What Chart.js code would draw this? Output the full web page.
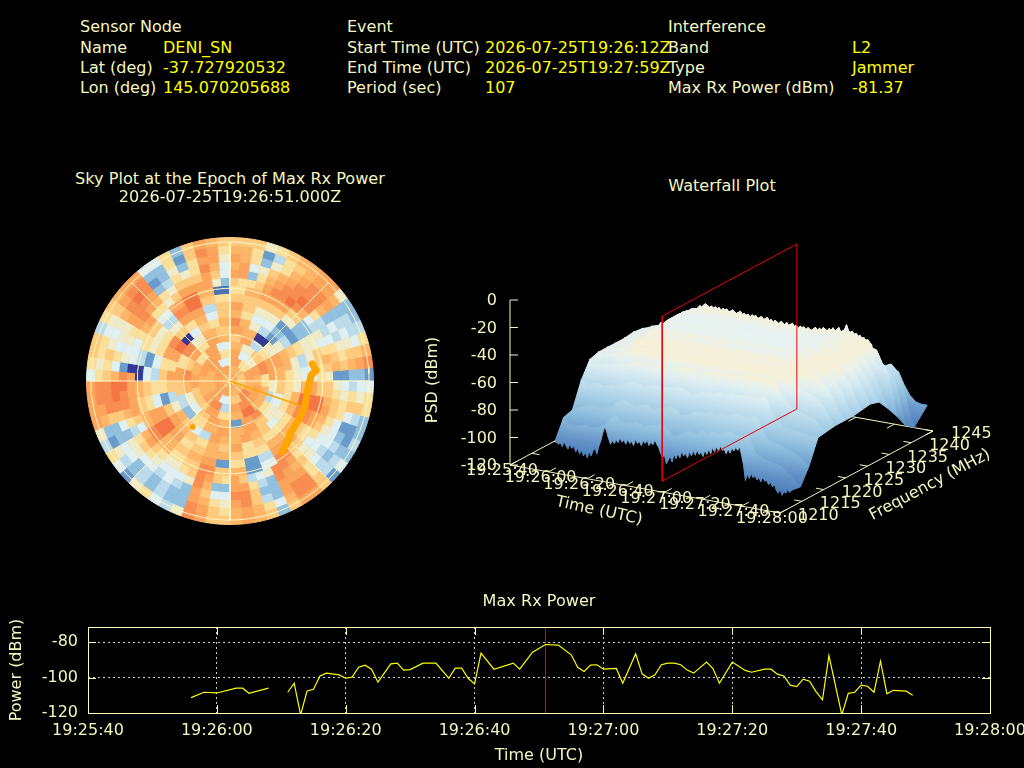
<!DOCTYPE html>
<html>
<head>
<meta charset="utf-8">
<title>Interference report</title>
<script src="https://cdn.jsdelivr.net/npm/chart.js@4"></script>
<style>
html, body { margin: 0; padding: 0; background: #000; width: 1024px; height: 768px; overflow: hidden; }
canvas { position: absolute; display: block; }
.txt { position: absolute; font: 16px "DejaVu Sans", sans-serif; white-space: pre; line-height: 18px; transform: translateY(-50%); }
.title { font-size: 16.1px; }
</style>
</head>
<body>
<canvas id="skyCells" style="left:86px;top:237px" width="288" height="288"></canvas>
<canvas id="skyOverlay" style="left:85px;top:236px" width="290" height="290"></canvas>
<canvas id="waterfall" style="left:400px;top:220px" width="624" height="320"></canvas>
<canvas id="powerChart" style="left:0;top:580px" width="1024" height="188"></canvas>
<script>
// header block
const sensorLabels = ['Sensor Node', 'Name', 'Lat (deg)', 'Lon (deg)'];
const sensorValues = ['', 'DENI_SN', '-37.727920532', '145.070205688'];
const eventLabels = ['Event', 'Start Time (UTC)', 'End Time (UTC)', 'Period (sec)'];
const eventValues = ['', '2026-07-25T19:26:12Z', '2026-07-25T19:27:59Z', '107'];
const interfLabels = ['Interference', 'Band', 'Type', 'Max Rx Power (dBm)'];
const interfValues = ['', 'L2', 'Jammer', '-81.37'];

// max rx power, seconds after 19:25:40 (null = no sample)
const powerSeconds = [16,18,20,23,24,25,28,29,31,32,33,34,35,36,37,39,40,41,42,43,44,45,47,48,49,50,52,54,56,57,58,59,60,61,63,66,67,69,71,73,75,76,77,78,79,80,82,83,85,86,87,88,89,90,91,92,93,94,96,97,98,100,102,103,105,106,107,108,109,110,111,112,113,114,115,117,118,119,120,121,122,123,124,125,127,128];
const powerValues = [-111.3,-108.3,-108.7,-106,-106,-108.9,-106,null,-108.3,-103.2,-121,-107.6,-106.6,-99.1,-97.5,-98.5,-100.4,-99.8,-94.2,-93,-95.3,-102.6,-92.3,-91.9,-95.8,-95.5,-91.9,-91.9,-100.4,-94.7,-94.7,-100.4,-103.6,-86.2,-95.3,-91.9,-95.3,-85.7,-81.37,-81.7,-87.2,-94.2,-96.6,-93,-92.8,-95.3,-94.9,-103.2,-86.6,-97.9,-100.4,-98.5,-92.8,-91.9,-91.9,-92.8,-95.8,-97.5,-91.3,-94.9,-103.2,-91.3,-96,-97,-95.3,-95.3,-98.1,-99.1,-104.3,-105.1,-100.9,-102.1,-107.9,-112.6,-87.7,-121,-108.9,-108.3,-104.3,-104.9,-108.3,-90.8,-109.2,-107.2,-107.7,-110];
const powerTimeLabels = ['19:25:40','19:26:00','19:26:20','19:26:40','19:27:00','19:27:20','19:27:40','19:28:00'];
const powerTicks = [-80, -100, -120];
const maxEpochSecond = 71;

// sky plot: one string per 5 deg sector from north clockwise, one level per ring from zenith out
const skySectors = [
'99ab95aba9878a9a98','9ab9a8ab9a877aa998','ab9a99aa8978735778','aba989a97889876326',
'9a876a98679ba98647','99765876568aba9778','a98567654579bba989','98675404568acbba99',
'a9546313258abcbbaa','9a75764232689bbbaa','852687652223579a96','973899864233443333',
'a879aa986545645443','968abaa98766554544','829abba98778776657','72aabba96468987889',
'83abaa9852478989ab','959a98776557622332','a8a977864567865455','a998268769a8876767',
'9a8937928bcb987887','9a9a86879ccca87543','abaa9458accb975223','aaba95379bba865324',
'9aaba6468aa8755433','89aab7667987554345','99ba94378a97665442','aaba986579a8787788',
'aba9bb879abba9abba','9a9abc9879abbaabba','a9abcba987aabbaa98','9a9abaa98745633353',
'a9a9aa989634543478','9a89a9aa7722478899','a99a929a55568abbaa','9ba89249a879aaba99',
'9a8a92578988735678','893569a98928835788','92347aba9889a989aa','a2579aaa99abbbaabb',
'9889aa9589aa863336','a99aba847898754334','9aaba9766787655445','aabb98758787654337',
'9aaba867a478765446','a9aa97689a99875332','9a9a8538abcba86545','aa9a7369accb976567',
'9a9862789bb9543324','a98976468aa9875336','9aa98753699aa9889a','9a9a98642578abbbaa',
'a9aab9875379abcbba','ba9aba987789accbba','9a89aaab9787ab9875','a89abbaa8450025767',
'97abba987543567878','a69aa9877524555678','97aa98776666566554','a89a998aa767776667',
'9aa8aabba8889aa988','a9a98abcb768abbba9','9a9a779bb5247abcba','a9a86570864579abba',
'9a9977647655673235','a9a998757aba864335','9a9aa9869bcca87677','a9a89a989acca86323',
'9a9aa9a98abba87788','a959a8975489aababa','9a8759889784689aa9','89a986a98871355678'
];
// inner rings hold wider cells: sectors per cell, zenith out
const skyCellSpan = [36,12,6,4,4,3,3,2,2,2,2,2,1,1,1,1,1,1];
const skyPalette = ['#343a94','#4a74b4','#6a9ccb','#92c0df','#bcdcec','#e0f0f0','#f0ebc8','#fae09a','#fecb7e','#fdb668','#fca55d','#f98e52','#f57645'];
const trackAz = [78.2,82.9,85.9,95.2,102.5,109.6,120.2,131.2,137.6,143.6];
const trackEl = [35.6,33.8,37.3,39.3,39.4,38.7,38.9,38.3,35.4,33.3];
const maxPowerAz = 109.3, maxPowerEl = 41;
const spotAz = 219, spotEl = 51.6;
const gridElevations = [0, 30, 60];
const gridAzimuths = [0, 45, 90, 135];

// waterfall: seconds after 19:25:40, MHz, PSD dBm per frequency row
const waterfallTimes = [14,17,20,23,26,29,32,35,38,41,44,47,50,53,56,59,62,65,68,71,74,77,80,83,86,89,92,95,98,101,104,107,110,113,116,119,122,125,128,131,134,137];
const waterfallFreqs = [1214,1216,1218,1220,1222,1224,1226,1228,1230,1232,1234,1236,1238,1240,1242,1245];
// front edge and ridge rows are read at one second steps
const denseTimes = Array.from({ length: 124 }, function(_, i) { return 14 + i; });
const frontEdgePsd = [
-106,-104,-108,-106,-109,-105,-108,-110,-106,-109,
-107,-111,-108,-112,-109,-113,-110,-114,-109,-112,
-108,-106,-110,-104,-100,-94,-89,-92,-97,-101,
-98,-100,-97,-99,-95,-98,-96,-99,-95,-98,
-96,-99,-94,-97,-95,-98,-94,-96,-93,-97,
-94,-96,-92,-95,-97,-101,-104,-102,-108,-105,
-102,-106,-100,-103,-99,-102,-97,-100,-98,-101,
-96,-99,-95,-98,-94,-97,-95,-98,-93,-96,
-92,-95,-90,-93,-89,-92,-88,-91,-90,-93,
-89,-92,-88,-90,-87,-89,-86,-92,-99,-110,
-105,-108,-104,-107,-105,-108,-106,-109,-105,-108,
-107,-110,-108,-111,-109,-113,-115,-112,-116,-113,
-114,-111,-113,-111];
const ridgePsd = [
-62,-60,-61,-60,-59,-60,-59,-58,-58,-57,
-56,-55,-54,-55,-53,-51,-52,-49,-48,-46,
-45,-43,-44,-42,-41,-42,-43,-42,-43,-42,
-43,-42,-44,-42,-43,-42,-44,-43,-42,-43,
-44,-43,-42,-44,-43,-44,-43,-45,-43,-44,
-43,-45,-44,-43,-45,-44,-43,-45,-44,-46,
-44,-45,-46,-44,-45,-46,-44,-46,-45,-44,
-46,-45,-47,-45,-46,-45,-47,-45,-46,-47,
-45,-44,-46,-44,-45,-43,-44,-45,-43,-44,
-42,-44,-43,-41,-44,-43,-42,-38,-42,-43,
-42,-44,-43,-45,-44,-46,-45,-47,-46,-48,
-49,-58,-63,-62,-65,-63,-66,-64,-67,-69,
-76,-82,-90,-98];
const waterfallPsd = [
frontEdgePsd,
[-92,-96,-97,-96,-95,-96,-95,-93,-88,-84,-87,-88,-87,-86,-88,-87,-86,-84,-86,-92,-90,-87,-86,-87,-84,-85,-83,-84,-82,-81,-83,-82,-80,-92,-95,-97,-98,-99,-100,-104,-108,-112],
[-90,-88,-86,-85,-84,-85,-84,-82,-78,-76,-78,-79,-78,-77,-79,-78,-77,-75,-76,-80,-79,-76,-75,-76,-74,-75,-73,-74,-72,-72,-73,-72,-71,-82,-86,-88,-89,-91,-92,-94,-97,-100],
[-72,-74,-73,-72,-73,-72,-71,-70,-68,-66,-67,-68,-67,-66,-67,-66,-65,-64,-65,-68,-67,-65,-64,-65,-63,-64,-62,-63,-62,-61,-62,-61,-60,-70,-76,-79,-80,-81,-82,-82,-83,-83],
[-60,-62,-62,-61,-61,-60,-59,-58,-56,-55,-56,-56,-55,-55,-56,-55,-54,-53,-54,-56,-55,-54,-53,-54,-53,-53,-52,-52,-51,-51,-52,-51,-50,-58,-65,-69,-71,-72,-73,-75,-79,-82],
[-58,-59,-58,-57,-56,-54,-52,-50,-48,-47,-47,-47,-46,-46,-47,-46,-45,-45,-45,-47,-46,-45,-45,-45,-44,-45,-44,-44,-43,-43,-44,-43,-43,-49,-55,-58,-60,-62,-64,-68,-76,-81],
[-58,-58,-57,-56,-54,-51,-48,-46,-43,-42,-42,-41,-41,-41,-42,-41,-40,-40,-40,-41,-41,-40,-40,-40,-39,-40,-39,-39,-39,-39,-39,-39,-39,-44,-48,-50,-53,-56,-59,-65,-74,-81],
[-58,-58,-57,-55,-53,-50,-46,-43,-40,-39,-38,-38,-37,-37,-38,-37,-37,-37,-37,-38,-37,-37,-36,-37,-36,-37,-36,-36,-36,-36,-36,-36,-36,-40,-44,-46,-49,-53,-58,-64,-73,-81],
[-58,-58,-57,-55,-52,-49,-45,-42,-39,-37,-37,-36,-36,-36,-36,-36,-35,-35,-36,-36,-36,-35,-35,-36,-35,-35,-35,-35,-35,-35,-35,-35,-35,-38,-41,-44,-48,-52,-57,-63,-72,-80],
[-57,-58,-57,-54,-52,-48,-44,-41,-38,-38,-38,-37,-37,-38,-38,-38,-37,-38,-38,-38,-37,-38,-38,-38,-38,-38,-37,-38,-38,-37,-38,-38,-38,-39,-41,-43,-47,-52,-57,-63,-71,-79],
[-58,-58,-57,-55,-52,-49,-45,-41,-39,-40,-40,-40,-40,-39,-40,-40,-39,-40,-40,-40,-40,-40,-40,-41,-40,-40,-40,-40,-40,-40,-40,-40,-39,-40,-42,-44,-48,-54,-60,-66,-74,-81],
[-60,-59,-58,-56,-53,-50,-46,-42,-41,-42,-42,-42,-42,-42,-42,-42,-42,-42,-42,-42,-42,-42,-43,-42,-42,-43,-42,-42,-42,-42,-42,-42,-41,-42,-43,-45,-50,-56,-63,-70,-80,-89],
ridgePsd,
[-72,-70,-68,-65,-62,-58,-54,-50,-48,-50,-52,-53,-54,-54,-54,-55,-55,-55,-55,-56,-55,-55,-56,-56,-55,-56,-56,-55,-55,-54,-54,-54,-54,-55,-55,-56,-57,-66,-70,-74,-90,-108],
[-92,-90,-88,-85,-82,-78,-75,-72,-70,-72,-74,-74,-75,-75,-75,-76,-75,-76,-76,-76,-75,-76,-76,-75,-76,-76,-75,-76,-75,-75,-74,-74,-74,-74,-74,-73,-72,-70,-74,-84,-100,-113],
[-110,-109,-108,-108,-107,-106,-105,-104,-103,-104,-105,-105,-105,-106,-105,-106,-105,-106,-105,-106,-105,-105,-106,-105,-105,-105,-105,-104,-105,-104,-103,-103,-104,-104,-85,-82,-81,-90,-97,-101,-102,-102]
];
const waterfallTimeTicks = [0,20,40,60,80,100,120,140];
const waterfallFreqTicks = [1210,1215,1220,1225,1230,1235,1240,1245];
const waterfallPsdTicks = [0,-20,-40,-60,-80,-100,-120];
const psdStops = [[-120,'#4575b4'],[-104,'#6594c8'],[-90,'#8cbcdc'],[-75,'#b5d8ea'],[-62,'#d9ecf2'],[-56,'#e8f1ec'],[-50,'#f6f0d8'],[-43,'#f5f0dc'],[-38,'#e9f2ee'],[-30,'#e4f0f2'],[0,'#e4f0f2']];
const planeFreqLow = 1213.5, planeFreqHigh = 1244.3;

const CREAM = '#f5f5c0';
const YELLOW = '#ffff00';
const FONT = '"DejaVu Sans", sans-serif';

Chart.defaults.animation = false;
Chart.defaults.events = [];
Chart.defaults.responsive = false;
Chart.defaults.color = CREAM;
Chart.defaults.font.family = FONT;
Chart.defaults.font.size = 16;
Chart.defaults.plugins.legend.display = false;
Chart.defaults.plugins.tooltip.enabled = false;

function addText(x, y, str, color, center) {
    const el = document.createElement('div');
    el.className = center ? 'txt title' : 'txt';
    el.textContent = str;
    el.style.left = x + 'px';
    el.style.top = y + 'px';
    el.style.color = color;
    if (center) el.style.transform = 'translate(-50%,-50%)';
    document.body.appendChild(el);
}

function addColumn(labels, values, xLabel, xValue) {
    labels.forEach(function(label, i) {
        const y = i === 0 ? 26.5 : 27.5 + i * 20;
        addText(xLabel, y, label, CREAM);
        if (values[i]) addText(xValue, y, values[i], YELLOW);
    });
}
addColumn(sensorLabels, sensorValues, 80, 163);
addColumn(eventLabels, eventValues, 347, 485);
addColumn(interfLabels, interfValues, 668, 852);
addText(230, 179, 'Sky Plot at the Epoch of Max Rx Power', CREAM, true);
addText(230, 197, '2026-07-25T19:26:51.000Z', CREAM, true);
addText(722, 186, 'Waterfall Plot', CREAM, true);
addText(539, 601, 'Max Rx Power', CREAM, true);

// a wide cell keeps a dark reading if it holds one, else the middle sector
function cellLevel(ring, first, span) {
    let lowest = 99;
    for (let s = first; s < first + span; s++) {
        lowest = Math.min(lowest, parseInt(skySectors[s].charAt(ring), 16));
    }
    if (lowest <= 1) return lowest;
    return parseInt(skySectors[first + (span >> 1)].charAt(ring), 16);
}
// sky cells, doughnut dataset 0 is the outer ring
const ringCount = skySectors[0].length;
const skyDatasets = [];
for (let ring = ringCount - 1; ring >= 0; ring--) {
    const span = skyCellSpan[ring];
    const weights = [], colors = [];
    for (let first = 0; first < skySectors.length; first += span) {
        weights.push(span);
        colors.push(skyPalette[cellLevel(ring, first, span)]);
    }
    skyDatasets.push({
        data: weights,
        backgroundColor: colors,
        borderColor: colors,
        borderWidth: 1,
        hoverBorderWidth: 1,
        hoverOffset: 0
    });
}
new Chart(document.getElementById('skyCells'), {
    type: 'doughnut',
    data: { labels: skySectors.map(function(s, i) { return i * 5; }), datasets: skyDatasets },
    options: { cutout: 0, rotation: 0, circumference: 360 }
});

function skyPoint(az, el) {
    const r = (90 - el) / 90;
    const a = az * Math.PI / 180;
    return { x: r * Math.sin(a), y: r * Math.cos(a) };
}
const overlaySets = [];
gridElevations.forEach(function(el) {
    const ring = [];
    for (let az = 0; az <= 360; az += 3) ring.push(skyPoint(az, el));
    overlaySets.push({ data: ring, showLine: true, borderColor: '#fff6c0', borderWidth: 1, pointRadius: 0 });
});
gridAzimuths.forEach(function(az) {
    overlaySets.push({ data: [skyPoint(az, 0), skyPoint(az + 180, 0)], showLine: true, borderColor: '#fff6c0', borderWidth: 1, pointRadius: 0 });
});
overlaySets.unshift({
    data: trackAz.map(function(az, i) { return skyPoint(az, trackEl[i]); }),
    showLine: true, borderColor: '#ffa500', borderWidth: 7, pointRadius: 0, borderCapStyle: 'round', borderJoinStyle: 'round'
});
overlaySets.unshift({
    data: [skyPoint(0, 90), skyPoint(maxPowerAz, maxPowerEl)],
    showLine: true, borderColor: '#ffa500', borderWidth: 1.5, pointRadius: 0
});
overlaySets.unshift({ data: [skyPoint(spotAz, spotEl)], pointRadius: 3, pointBackgroundColor: '#ffa500', pointBorderWidth: 0 });
const skyExtent = 145 / 143;
new Chart(document.getElementById('skyOverlay'), {
    type: 'scatter',
    data: { datasets: overlaySets },
    options: {
        scales: {
            x: { display: false, min: -skyExtent, max: skyExtent },
            y: { display: false, min: -skyExtent, max: skyExtent }
        }
    }
});

// waterfall, projected by hand onto a scene in canvas pixels
const SCENE_X = 400, SCENE_Y = 220, SCENE_W = 624, SCENE_H = 320;
function project(t, f, z) {
    const tf = t / 140, ff = (f - 1210) / 35;
    return {
        x: 510 + 270 * tf + 153 * ff - SCENE_X,
        y: 465 + 48 * tf - 82 * ff - 165 * (z + 120) / 120 - SCENE_Y
    };
}
const waterfallCanvas = document.getElementById('waterfall');
const waterfallCtx = waterfallCanvas.getContext('2d');
function psdGradient(fMid) {
    const p0 = project(70, fMid, -120);
    const g = waterfallCtx.createLinearGradient(p0.x, p0.y, p0.x + 28.5, p0.y - 159.9);
    psdStops.forEach(function(s) { g.addColorStop((s[0] + 120) / 120, s[1]); });
    return g;
}
function rowPoints(r) {
    const row = waterfallPsd[r];
    const times = row.length === denseTimes.length ? denseTimes : waterfallTimes;
    return times.map(function(t, i) { return project(t, waterfallFreqs[r], row[i]); });
}
const waterfallSets = [];
for (let r = 0; r < waterfallFreqs.length - 1; r++) {
    const grad = psdGradient((waterfallFreqs[r] + waterfallFreqs[r + 1]) / 2);
    waterfallSets.push({
        data: rowPoints(r).concat(rowPoints(r + 1).reverse()),
        showLine: true, fill: 'shape', backgroundColor: grad, borderColor: grad,
        borderWidth: 1, pointRadius: 0, order: r + 1
    });
}
function addSegment(a, b, color) {
    waterfallSets.push({ data: [a, b], showLine: true, borderColor: color, borderWidth: 1, pointRadius: 0, order: 100 });
}
// floor and axes behind the surface
addSegment(project(0, 1210, -120), project(140, 1210, -120), CREAM);
addSegment(project(140, 1210, -120), project(140, 1245, -120), CREAM);
addSegment(project(140, 1245, -120), project(0, 1245, -120), CREAM);
addSegment(project(0, 1245, -120), project(0, 1210, -120), CREAM);
addSegment(project(0, 1210, -120), project(0, 1210, 0), CREAM);
waterfallTimeTicks.forEach(function(t) {
    addSegment(project(t, 1210, -120), project(t, 1211.7, -120), CREAM);
    addSegment(project(t, 1245, -120), project(t, 1243.3, -120), CREAM);
});
waterfallFreqTicks.forEach(function(f) {
    addSegment(project(140, f, -120), project(136, f, -120), CREAM);
    addSegment(project(0, f, -120), project(4, f, -120), CREAM);
});
waterfallPsdTicks.forEach(function(z) {
    const p = project(0, 1210, z);
    addSegment(p, { x: p.x + 8, y: p.y }, CREAM);
});
// red plane at the max power epoch, on top
waterfallSets.push({
    data: [
        project(maxEpochSecond, planeFreqLow, -120),
        project(maxEpochSecond, planeFreqHigh, -120),
        project(maxEpochSecond, planeFreqHigh, 0),
        project(maxEpochSecond, planeFreqLow, 0),
        project(maxEpochSecond, planeFreqLow, -120)
    ],
    showLine: true, borderColor: '#e8000a', borderWidth: 1, pointRadius: 0, order: 0
});

const waterfallLabels = {
    id: 'waterfallLabels',
    afterDraw: function(chart) {
        const c = chart.ctx;
        c.save();
        c.fillStyle = CREAM;
        c.font = '16px ' + FONT;
        c.textBaseline = 'middle';
        c.textAlign = 'right';
        waterfallPsdTicks.forEach(function(z) {
            const p = project(0, 1210, z);
            c.fillText(String(z), p.x - 13, p.y + 1);
        });
        c.textAlign = 'center';
        waterfallTimeTicks.forEach(function(t, i) {
            const p = project(t, 1210, -120);
            c.fillText(powerTimeLabels[i], p.x - 8, p.y + 6);
        });
        c.textAlign = 'left';
        waterfallFreqTicks.forEach(function(f) {
            const p = project(140, f, -120);
            c.fillText(String(f), p.x + 18, p.y + 3);
        });
        c.textAlign = 'center';
        drawRotated(c, 'Time (UTC)', 599 - SCENE_X, 511 - SCENE_Y, 12);
        drawRotated(c, 'Frequency (MHz)', 930 - SCENE_X, 485 - SCENE_Y, -28);
        drawRotated(c, 'PSD (dBm)', 433 - SCENE_X, 380 - SCENE_Y, -90);
        c.restore();
    }
};
function drawRotated(c, str, x, y, deg) {
    c.save();
    c.translate(x, y);
    c.rotate(deg * Math.PI / 180);
    c.fillText(str, 0, 0);
    c.restore();
}
new Chart(waterfallCanvas, {
    type: 'scatter',
    data: { datasets: waterfallSets },
    options: {
        scales: {
            x: { display: false, min: 0, max: SCENE_W },
            y: { display: false, min: 0, max: SCENE_H, reverse: true }
        }
    },
    plugins: [waterfallLabels]
});

// bottom power chart
const powerFrame = {
    id: 'powerFrame',
    afterDraw: function(chart) {
        const a = chart.chartArea, c = chart.ctx;
        c.save();
        c.strokeStyle = '#ffffb0';
        c.lineWidth = 1;
        c.strokeRect(a.left + 0.5, a.top + 0.5, a.width, a.height);
        c.beginPath();
        chart.scales.x.ticks.forEach(function(t) {
            const x = Math.round(chart.scales.x.getPixelForValue(t.value)) + 0.5;
            c.moveTo(x, a.top); c.lineTo(x, a.top + 8);
            c.moveTo(x, a.bottom); c.lineTo(x, a.bottom - 8);
        });
        chart.scales.y.ticks.forEach(function(t) {
            const y = Math.round(chart.scales.y.getPixelForValue(t.value)) + 0.5;
            c.moveTo(a.left, y); c.lineTo(a.left + 8, y);
            c.moveTo(a.right, y); c.lineTo(a.right - 8, y);
        });
        c.stroke();
        c.restore();
    }
};
new Chart(document.getElementById('powerChart'), {
    type: 'line',
    data: {
        datasets: [
            {
                data: powerSeconds.map(function(s, i) { return { x: s, y: powerValues[i] }; }),
                borderColor: '#ffff00', borderWidth: 1.2, pointRadius: 0, tension: 0, spanGaps: false
            },
            {
                data: [{ x: maxEpochSecond, y: -120 }, { x: maxEpochSecond, y: -71.5 }],
                borderColor: '#e8000a', borderWidth: 1, pointRadius: 0
            }
        ]
    },
    options: {
        layout: { padding: { left: 0, right: 34, top: 47, bottom: 0 } },
        scales: {
            x: {
                type: 'linear', min: 0, max: 140,
                grid: { color: '#cccccc', drawTicks: false },
                border: { dash: [2, 3], display: false },
                ticks: {
                    stepSize: 20, maxRotation: 0, autoSkip: false, padding: 8,
                    callback: function(v) { return powerTimeLabels[v / 20]; }
                },
                title: { display: true, text: 'Time (UTC)', padding: { top: 0, bottom: 3 } },
                afterFit: function(s) { s.height = 55; s.paddingLeft = 0; s.paddingRight = 0; }
            },
            y: {
                min: -120, max: -71.5,
                afterBuildTicks: function(s) { s.ticks = powerTicks.map(function(v) { return { value: v }; }); },
                grid: { color: '#cccccc', drawTicks: false },
                border: { dash: [2, 3], display: false },
                ticks: { padding: 10 },
                title: { display: true, text: 'Power (dBm)', padding: { top: 7, bottom: 0 } },
                afterFit: function(s) { s.width = 88; s.paddingTop = 0; s.paddingBottom = 0; }
            }
        }
    },
    plugins: [powerFrame]
});
</script>
</body>
</html>
